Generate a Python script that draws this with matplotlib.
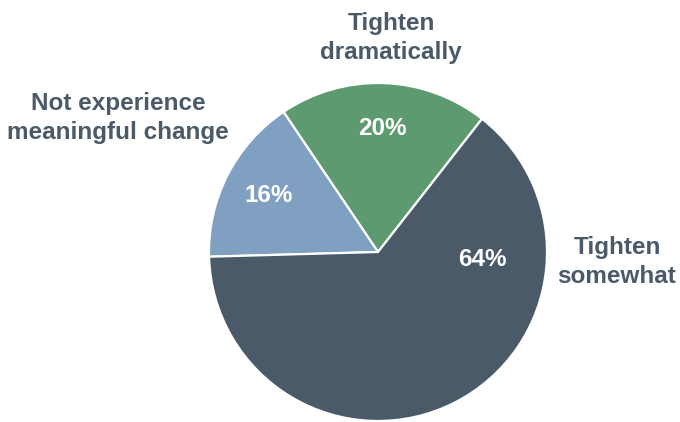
import matplotlib.pyplot as plt

labels = ["Tighten\ndramatically", "Not experience\nmeaningful change", "Tighten\nsomewhat"]
shares = [20, 16, 64]
colors = ["#5e9a6f", "#7fa0c0", "#4b5a69"]
text_color = "#4b5a69"
font = dict(family=["Liberation Sans", "DejaVu Sans"], fontsize=17.5, fontweight="bold")

fig = plt.figure(figsize=(6.8, 4.22), dpi=100)
ax = fig.add_axes([0, 0, 1, 1])

wedges, _, pcts = ax.pie(
    shares, colors=colors, startangle=52, center=(378, 170), radius=169,
    autopct="%d%%", pctdistance=0.73,
    wedgeprops=dict(edgecolor="white", linewidth=1.6),
    textprops=dict(color="white", **font),
)
ax.set_xlim(0, 680)
ax.set_ylim(0, 422)
ax.set_aspect("equal")
ax.axis("off")

# the big slice has its number off to the right, not at its middle
pcts[2].set_position((482, 162))

label_pos = [(391, 384), (118, 304), (617, 160)]
for text, (x, y) in zip(labels, label_pos):
    ax.text(x, y, text, ha="center", va="center", color=text_color,
            linespacing=1.3, **font)

fig.savefig("out.png", dpi=100)
